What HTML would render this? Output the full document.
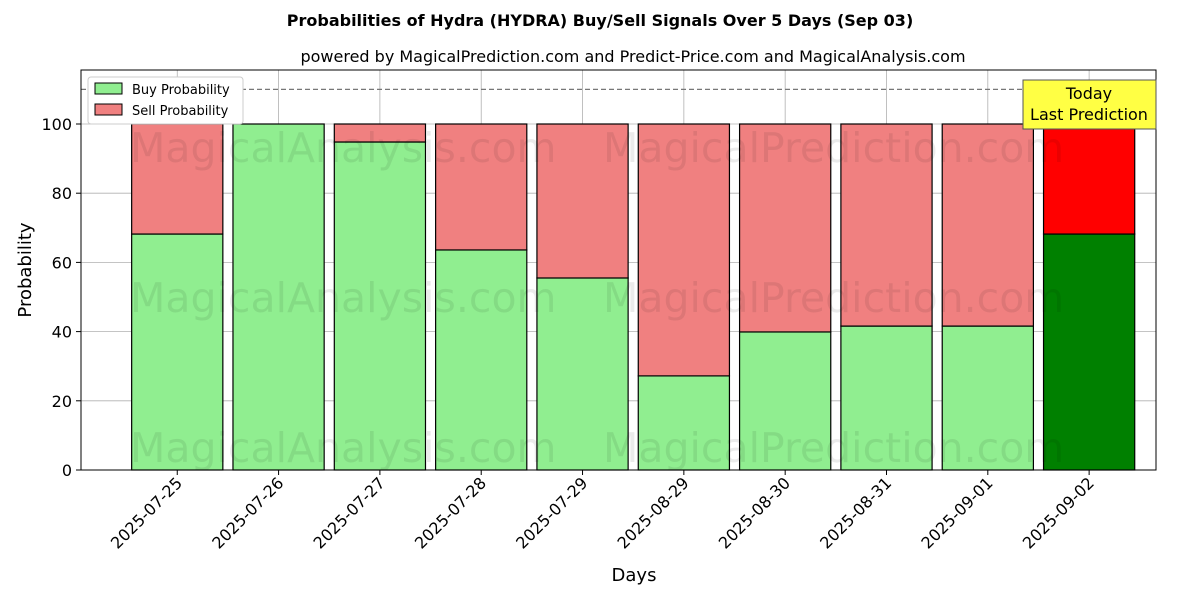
<!DOCTYPE html>
<html><head><meta charset="utf-8">
<style>
html,body{margin:0;padding:0;background:#fff;}
svg{display:block;font-family:"DejaVu Sans","Liberation Sans",sans-serif;}
</style></head>
<body>
<svg id="chart" width="1200" height="600" viewBox="0 0 1200 600">
<text x="600" y="26" text-anchor="middle" font-size="16" font-weight="bold">Probabilities of Hydra (HYDRA) Buy/Sell Signals Over 5 Days (Sep 03)</text>
<text x="633" y="62" text-anchor="middle" font-size="16">powered by MagicalPrediction.com and Predict-Price.com and MagicalAnalysis.com</text>
<g id="grid"></g>
<g id="bars"></g>
<g id="watermarks" fill="#000" fill-opacity="0.08" font-size="41">
<text x="130" y="162">MagicalAnalysis.com</text>
<text x="603" y="162">MagicalPrediction.com</text>
<text x="130" y="312">MagicalAnalysis.com</text>
<text x="603" y="312">MagicalPrediction.com</text>
<text x="130" y="462">MagicalAnalysis.com</text>
<text x="603" y="462">MagicalPrediction.com</text>
</g>
<line x1="81" x2="1156" y1="89.4" y2="89.4" stroke="#777" stroke-dasharray="5,3" stroke-width="1.2"/>
<rect x="81" y="70" width="1075" height="400" fill="none" stroke="#000" stroke-width="1"/>
<g id="axes"></g>
<text x="634" y="581" text-anchor="middle" font-size="18">Days</text>
<text transform="translate(31,270) rotate(-90)" text-anchor="middle" font-size="18">Probability</text>
<g>
<rect x="88" y="77" width="155" height="47" fill="#fff" stroke="#ccc" rx="3"/>
<rect x="95" y="83" width="27" height="11" fill="#90ee90" stroke="#000"/>
<text x="132" y="94" font-size="13">Buy Probability</text>
<rect x="95" y="104" width="27" height="11" fill="#f08080" stroke="#000"/>
<text x="132" y="115" font-size="13">Sell Probability</text>
</g>
<g>
<rect x="1023" y="80" width="133" height="49" fill="#ffff44" stroke="#555"/>
<text x="1089" y="99" text-anchor="middle" font-size="16">Today</text>
<text x="1089" y="120" text-anchor="middle" font-size="16">Last Prediction</text>
</g>
</svg>
<script>
const categories = ["2025-07-25","2025-07-26","2025-07-27","2025-07-28","2025-07-29","2025-08-29","2025-08-30","2025-08-31","2025-09-01","2025-09-02"];
const buyValues = [68.2,100,94.8,63.6,55.5,27.2,39.9,41.6,41.6,68.2];
const sellValues = [31.8,0,5.2,36.4,44.5,72.8,60.1,58.4,58.4,31.8];
const yTicks = [0,20,40,60,80,100];

const NS="http://www.w3.org/2000/svg";
const plotL=81, plotR=1156, y0=470, pxPerUnit=3.46;
const yScale=v=>y0-v*pxPerUnit;
const step=(plotR-plotL)/(categories.length+0.61);
const xScale=i=>plotL+step*(0.95+i);
const barW=step*0.9;
function mk(tag,attrs,parent){const e=document.createElementNS(NS,tag);for(const k in attrs)e.setAttribute(k,attrs[k]);parent.appendChild(e);return e;}
const grid=document.getElementById('grid'),bars=document.getElementById('bars'),axes=document.getElementById('axes');
yTicks.forEach(t=>{
  const y=yScale(t);
  const g=mk('line',{x1:plotL,x2:plotR,y1:y,y2:y,stroke:'#b0b0b0','stroke-width':0.8},grid);
  
  
  const tk=mk('line',{x1:plotL-5,x2:plotL,y1:y,y2:y,stroke:'#000'},axes);
  
  
  const tx=mk('text',{x:plotL-9,y:y+6,'text-anchor':'end','font-size':16},axes);
  tx.textContent=t;
  
  
});
categories.forEach((c,i)=>{
  const cx=xScale(i);
  const g=mk('line',{x1:cx,x2:cx,y1:70,y2:y0,stroke:'#b0b0b0','stroke-width':0.8},grid);
  
  
  const last=i===categories.length-1;
  const b=mk('rect',{x:cx-barW/2,y:yScale(buyValues[i]),width:barW,height:buyValues[i]*pxPerUnit,fill:last?'#008000':'#90ee90',stroke:'#000','stroke-width':1.2},bars);
  
  
  const s=mk('rect',{x:cx-barW/2,y:yScale(buyValues[i]+sellValues[i]),width:barW,height:sellValues[i]*pxPerUnit,fill:last?'#ff0000':'#f08080',stroke:'#000','stroke-width':1.2},bars);
  
  
  const tk=mk('line',{x1:cx,x2:cx,y1:y0,y2:y0+5,stroke:'#000'},axes);
  
  
  const ax=cx+6, ay=y0+14;
  const tx=mk('text',{x:ax,y:ay,'text-anchor':'end','font-size':16,transform:`rotate(-45 ${ax} ${ay})`},axes);
  tx.textContent=c;
  
  
});
</script>
</body></html>
